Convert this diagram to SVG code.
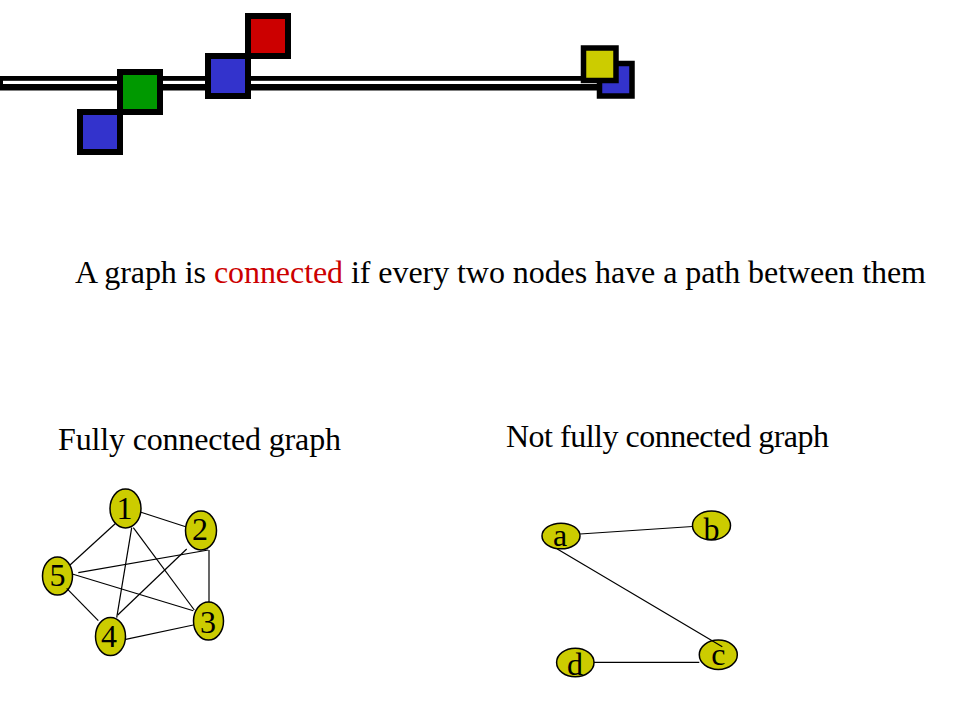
<svg xmlns="http://www.w3.org/2000/svg" width="960" height="720" viewBox="0 0 960 720">
<style>
  .sq { stroke: #000; stroke-width: 6; }
  .sqs { stroke: #000; stroke-width: 5.5; }
  .node { fill: #CCCC00; stroke: #000; stroke-width: 1.5; }
  .lbl { font-family: "Liberation Serif", "Times New Roman", serif; font-size: 32px; fill: #000; text-anchor: middle; }
  .txt { font-family: "Liberation Serif", "Times New Roman", serif; font-size: 32px; fill: #000; }
  .edge { stroke: #000; stroke-width: 1.2; fill: none; }
</style>
<rect width="960" height="720" fill="#fff"/>
<g id="banner">
  <rect x="0" y="76" width="600" height="14.5" fill="#000"/>
  <rect x="3" y="80.8" width="594" height="3.2" fill="#fff"/>
  <rect class="sq" x="80" y="112" width="40" height="40" fill="#3333CC"/>
  <rect class="sq" x="120" y="72" width="40" height="40" fill="#009900"/>
  <rect class="sq" x="208" y="56" width="40" height="40" fill="#3333CC"/>
  <rect class="sq" x="248" y="16" width="40" height="40" fill="#CC0000"/>
  <rect class="sqs" x="599.5" y="63.5" width="32.5" height="32.5" fill="#3333CC"/>
  <rect class="sqs" x="583.5" y="48" width="32.5" height="32.5" fill="#CCCC00"/>
</g>
<g id="heading">
  <text class="txt" x="75" y="283" textLength="851">A graph is <tspan fill="#CC0000">connected</tspan> if every two nodes have a path between them</text>
</g>
<g id="title-full">
  <text class="txt" x="58" y="450" textLength="283">Fully connected graph</text>
</g>
<g id="title-notfull">
  <text class="txt" x="506" y="447" textLength="323">Not fully connected graph</text>
</g>
<g id="n1"><ellipse class="node" cx="125.5" cy="508.5" rx="15.5" ry="19.5"/><text class="lbl" x="124.5" y="519">1</text></g>
<g id="n2"><ellipse class="node" cx="201" cy="530.5" rx="15.5" ry="19.5"/><text class="lbl" x="200" y="540">2</text></g>
<g id="n3"><ellipse class="node" cx="208.5" cy="621" rx="15" ry="19"/><text class="lbl" x="208" y="632.5">3</text></g>
<g id="n4"><ellipse class="node" cx="110.5" cy="636.5" rx="15" ry="19"/><text class="lbl" x="109" y="647">4</text></g>
<g id="n5"><ellipse class="node" cx="57.5" cy="576" rx="15" ry="19"/><text class="lbl" x="57.5" y="586">5</text></g>
<g id="na"><ellipse class="node" cx="561" cy="536" rx="19" ry="12.8"/><text class="lbl" x="560" y="546">a</text></g>
<g id="nb"><ellipse class="node" cx="711.5" cy="525.5" rx="19" ry="14.5"/><text class="lbl" x="711.5" y="539.5">b</text></g>
<g id="nc"><ellipse class="node" cx="718.3" cy="654.7" rx="19" ry="14.7"/><text class="lbl" x="718.3" y="665">c</text></g>
<g id="nd"><ellipse class="node" cx="575.3" cy="662.5" rx="18.7" ry="14.2"/><text class="lbl" x="575" y="675">d</text></g>
<g id="connectors">
  <line class="edge" x1="141" y1="512.3" x2="185.7" y2="526.7"/>
  <line class="edge" x1="115.7" y1="523.3" x2="70" y2="565"/>
  <line class="edge" x1="131.7" y1="527.7" x2="116.7" y2="617.7"/>
  <line class="edge" x1="133.3" y1="527.7" x2="194.3" y2="610"/>
  <line class="edge" x1="208.3" y1="550" x2="78.3" y2="572.7"/>
  <line class="edge" x1="186.7" y1="549" x2="117.7" y2="615"/>
  <line class="edge" x1="209" y1="550" x2="209" y2="602"/>
  <line class="edge" x1="72.3" y1="574" x2="193.3" y2="610.7"/>
  <line class="edge" x1="66.7" y1="588.3" x2="98.3" y2="620.7"/>
  <line class="edge" x1="125.7" y1="639.3" x2="193.3" y2="625"/>
  <line class="edge" x1="580" y1="534" x2="692.5" y2="526.5"/>
  <line class="edge" x1="557.3" y1="549" x2="722.3" y2="646.7"/>
  <line class="edge" x1="594" y1="662.3" x2="699.3" y2="662.3"/>
</g>
</svg>
